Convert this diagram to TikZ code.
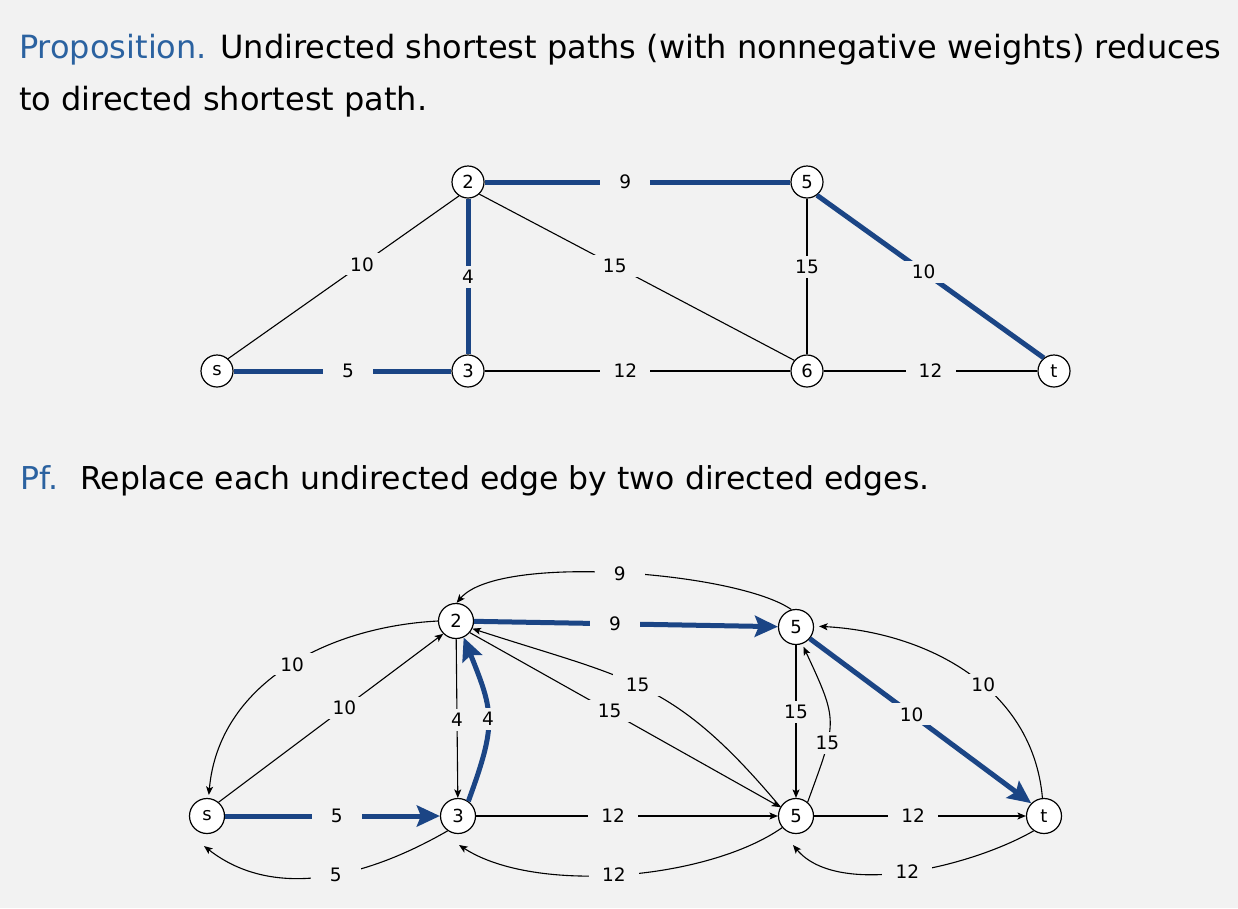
\documentclass[tikz,border=0pt]{standalone}
\usepackage{fontspec}
\setmainfont{DejaVu Sans}
\usetikzlibrary{arrows.meta}
\definecolor{bg}{HTML}{F2F2F2}
\definecolor{tblue}{HTML}{2B62A0}
\definecolor{eblue}{HTML}{1B4585}
\begin{document}
\begin{tikzpicture}[x=1pt,y=1pt,
  vtx/.style={circle,draw=black,line width=1.2pt,fill=white,inner sep=0pt,font=\fontsize{18}{18}\selectfont},
  vtop/.style={vtx,minimum size=32pt},
  vbot/.style={vtx,minimum size=35pt},
  wt/.style={fill=bg,inner sep=0pt,minimum width=50pt,minimum height=22pt,font=\fontsize{18.5}{18.5}\selectfont},
  thinedge/.style={draw=black,line width=1.1pt},
  thickedge/.style={draw=eblue,line width=5pt},
  tarr/.style={thinedge,-{Stealth[length=8.5pt,width=7pt,inset=2pt]}},
  barr/.style={thickedge,-{Stealth[length=23pt,width=21pt,inset=4pt]}},
  txt/.style={anchor=base west,inner sep=0pt,font=\fontsize{32}{32}\selectfont},
  txtb/.style={anchor=base west,inner sep=0pt,font=\fontsize{31.5}{31.5}\selectfont}
]
\fill[bg] (0,0) rectangle (1238,-908);
\useasboundingbox (0,0) rectangle (1238,-908);

% texts
\node[txt] (l1) at (19,-58) {\textcolor{tblue}{Proposition.} Undirected shortest paths (with nonnegative weights) reduces};
\node[txt] (l2) at (19,-110) {to directed shortest path.};
\node[txtb] (l3) at (20,-489) {\textcolor{tblue}{Pf.}};
\node[txtb] (l4) at (80,-489) {Replace each undirected edge by two directed edges.};

% top graph nodes
\node[vtop] (n2) at (468,-182) {2};
\node[vtop] (n5) at (807,-182) {5};
\node[vtop] (ns) at (217,-371) {s};
\node[vtop] (n3) at (468,-371) {3};
\node[vtop] (n6) at (807,-371) {6};
\node[vtop] (nt) at (1054,-371) {t};

% top graph edges
\draw[thinedge] (ns.48) -- node[wt,pos=0.58] {10} (n2.237);
\draw[thinedge] (n2.-47) -- node[wt,pos=0.43] {15} (n6.140);
\draw[thinedge] (n5) -- node[wt,pos=0.44] {15} (n6);
\draw[thinedge] (n3) -- node[wt,pos=0.46] {12} (n6);
\draw[thinedge] (n6) -- node[wt,pos=0.5] {12} (nt);
\draw[thickedge] (ns) -- node[wt,pos=0.525] {5} (n3);
\draw[thickedge] (n2) -- node[wt,pos=0.5] {4} (n3);
\draw[thickedge] (n2) -- node[wt,pos=0.46] {9} (n5);
\draw[thickedge] (n5.-53) -- node[wt,pos=0.47] {10} (nt.128);

% bottom graph nodes
\node[vbot] (b2) at (456,-621) {2};
\node[vbot] (b5a) at (796,-627) {5};
\node[vbot] (bs) at (207,-816) {s};
\node[vbot] (b3) at (458,-816) {3};
\node[vbot] (b5b) at (796,-816) {5};
\node[vbot] (bt) at (1044,-816) {t};

% bottom graph: thin straight
\draw[tarr] (bs.50) -- node[wt,pos=0.56] {10} (b2.225);
\draw[tarr] (b2) -- node[wt,pos=0.51] {4} (b3);
\draw[tarr] (b2.-40) -- node[wt,pos=0.45] {15} (b5b);
\draw[tarr] (b5a) -- node[wt,pos=0.44] {15} (b5b);
\draw[tarr] (b3) -- node[wt,pos=0.454] {12} (b5b);
\draw[tarr] (b5b) -- node[wt,pos=0.467] {12} (bt);

% bottom graph: thin curved
\draw[tarr] (b3.-125) to[out=-150,in=-38,looseness=0.95] node[wt,pos=0.45] {5} ([shift={(-3,-30)}]bs.center);
\draw[tarr] (b5b.-140) to[out=-145,in=-33,looseness=0.72] node[wt,pos=0.52] {12} ([shift={(1,-29)}]b3.center);
\draw[tarr] (bt.-125) to[out=-150,in=-50,looseness=0.75] node[wt,pos=0.5] {12} ([shift={(-3,-29)}]b5b.center);
\draw[tarr,shorten >=3pt] (b2.180) to[out=183,in=85,looseness=1] node[wt,pos=0.47] {10} (bs.85);
\draw[tarr] (b5a.105) to[out=145,in=50,looseness=0.5] node[wt,pos=0.5] {9} (b2.88);
\draw[tarr] (b5b.150) to[out=130,in=-18,looseness=1.2] node[wt,pos=0.53] {15} (b2.-25);
\draw[tarr,shorten >=3pt] (b5b.50) to[out=70,in=-65,looseness=1.4] node[wt,pos=0.33] {15} (b5a.-70);
\draw[tarr,shorten >=5pt] (bt.95) to[out=95,in=-3,looseness=1] node[wt,pos=0.43] {10} (b5a.3);

% bottom graph: thick
\draw[barr] (bs) -- node[wt,pos=0.52] {5} (b3);
\draw[barr] (b3.55) to[out=70,in=-68,looseness=1.28] node[wt,pos=0.5] {4} (b2.-65);
\draw[barr] (b2) -- node[wt,pos=0.464] {9} (b5a);
\draw[barr] (b5a.-40) -- node[wt,pos=0.46] {10} (bt.135);
\end{tikzpicture}
\end{document}
